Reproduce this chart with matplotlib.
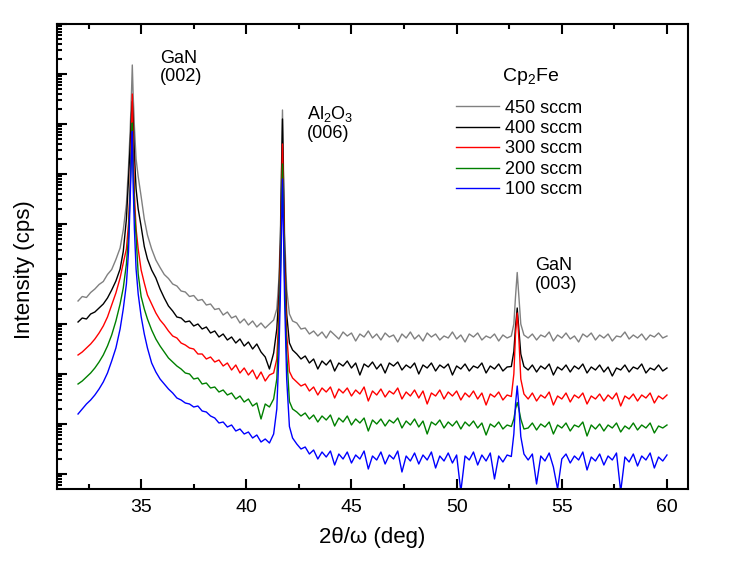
import numpy as np
import matplotlib
matplotlib.use('Agg')
import matplotlib.pyplot as plt
from matplotlib.ticker import LogLocator, NullFormatter, MultipleLocator

plt.rcParams['font.family'] = ['Liberation Sans', 'DejaVu Sans']
plt.rcParams['mathtext.default'] = 'regular'

# 2theta/omega scan positions (deg)
two_theta = [
    32.0, 32.2, 32.4, 32.6, 32.8, 33.0, 33.2, 33.4, 33.6, 33.8, 34.0, 34.15, 34.3,
    34.4, 34.48, 34.54, 34.58, 34.62, 34.68, 34.76, 34.86,
    35.0, 35.15, 35.3, 35.5, 35.7, 35.9, 36.1, 36.3, 36.5, 36.7, 36.9, 37.1, 37.3,
    37.5, 37.7, 37.9, 38.1, 38.3, 38.5, 38.7, 38.9, 39.1, 39.3, 39.5, 39.7, 39.9,
    40.1, 40.3, 40.5, 40.7, 40.9, 41.1, 41.3,
    41.45, 41.55, 41.62, 41.68, 41.72, 41.76, 41.82, 41.92,
    42.05, 42.2, 42.4, 42.6, 42.8, 43.0, 43.2, 43.4, 43.6, 43.8, 44.0, 44.2, 44.4,
    44.6, 44.8, 45.0, 45.2, 45.4, 45.6, 45.8, 46.0, 46.2, 46.4, 46.6, 46.8, 47.0,
    47.2, 47.4, 47.6, 47.8, 48.0, 48.2, 48.4, 48.6, 48.8, 49.0, 49.2, 49.4, 49.6,
    49.8, 50.0, 50.2, 50.4, 50.6, 50.8, 51.0, 51.2, 51.4, 51.6, 51.8, 52.0, 52.2, 52.4,
    52.6, 52.72, 52.8, 52.88, 52.96, 53.05, 53.2,
    53.4, 53.6, 53.8, 54.0, 54.2, 54.4, 54.6, 54.8, 55.0, 55.2, 55.4, 55.6, 55.8,
    56.0, 56.2, 56.4, 56.6, 56.8, 57.0, 57.2, 57.4, 57.6, 57.8, 58.0, 58.2, 58.4,
    58.6, 58.8, 59.0, 59.2, 59.4, 59.6, 59.8, 60.0,
]

# log10 of intensity (cps)
log_450 = [
    3.46, 3.55, 3.53, 3.63, 3.70, 3.79, 3.85, 3.99, 4.09, 4.29, 4.52, 4.88, 5.40,
    6.14, 6.90, 7.60, 8.18, 7.60, 6.95, 6.30, 5.95,
    5.55, 5.10, 4.78, 4.50, 4.28, 4.13, 3.99, 3.91, 3.80, 3.76, 3.66, 3.64, 3.55,
    3.57, 3.47, 3.49, 3.38, 3.40, 3.29, 3.31, 3.18, 3.24, 3.12, 3.16, 3.02, 3.10,
    2.98, 3.06, 2.94, 3.02, 2.92, 3.00, 3.08,
    3.30, 3.90, 4.80, 6.30, 7.28, 6.30, 4.80, 3.70,
    3.20, 3.06, 3.02, 2.90, 2.92, 2.80, 2.86, 2.76, 2.84, 2.72, 2.86, 2.78, 2.70,
    2.84, 2.76, 2.82, 2.66, 2.80, 2.74, 2.86, 2.72, 2.80, 2.68, 2.82, 2.74, 2.78,
    2.64, 2.80, 2.72, 2.84, 2.70, 2.78, 2.66, 2.82, 2.74, 2.80, 2.68, 2.76, 2.72,
    2.84, 2.70, 2.78, 2.64, 2.80, 2.74, 2.82, 2.68, 2.76, 2.72, 2.80, 2.66, 2.78, 2.72,
    2.76, 3.00, 3.55, 4.03, 3.55, 3.00, 2.78,
    2.72, 2.80, 2.68, 2.78, 2.74, 2.84, 2.66, 2.78, 2.72, 2.82, 2.70, 2.76, 2.64,
    2.80, 2.74, 2.82, 2.68, 2.78, 2.72, 2.80, 2.66, 2.76, 2.74, 2.84, 2.70, 2.78,
    2.72, 2.80, 2.68, 2.78, 2.74, 2.82, 2.72, 2.76,
]
log_400 = [
    3.04, 3.12, 3.10, 3.20, 3.24, 3.32, 3.40, 3.52, 3.68, 3.86, 4.10, 4.45, 5.10,
    5.90, 6.60, 7.20, 7.45, 7.10, 6.40, 5.70, 5.30,
    4.95, 4.55, 4.30, 4.08, 3.92, 3.70, 3.52, 3.36, 3.26, 3.14, 3.12, 3.04, 3.06,
    2.96, 3.00, 2.90, 2.94, 2.82, 2.86, 2.74, 2.80, 2.68, 2.74, 2.62, 2.70, 2.56,
    2.64, 2.50, 2.60, 2.44, 2.34, 2.10, 2.42,
    2.90, 3.60, 4.60, 6.10, 7.10, 6.10, 4.50, 3.20,
    2.62, 2.48, 2.40, 2.30, 2.36, 2.22, 2.30, 2.10, 2.26, 2.18, 2.28, 2.06, 2.22,
    2.16, 2.26, 2.12, 2.22, 1.98, 2.20, 2.14, 2.24, 2.10, 2.20, 2.02, 2.22, 2.16,
    2.24, 2.08, 2.18, 2.12, 2.22, 2.00, 2.18, 2.12, 2.22, 2.06, 2.18, 2.12, 2.20,
    1.98, 2.16, 2.10, 2.20, 2.06, 2.16, 2.12, 2.22, 2.02, 2.16, 2.10, 2.20, 2.06, 2.14,
    2.15, 2.45, 2.95, 3.32, 2.90, 2.40, 2.15,
    2.08, 2.18, 2.04, 2.16, 2.10, 2.20, 1.98, 2.14, 2.08, 2.18, 2.04, 2.16, 2.10,
    2.20, 2.02, 2.14, 2.08, 2.18, 2.04, 2.14, 1.96, 2.12, 2.08, 2.18, 2.04, 2.14,
    2.10, 2.20, 2.02, 2.12, 2.08, 2.18, 2.06, 2.12,
]
log_300 = [
    2.38, 2.44, 2.52, 2.60, 2.70, 2.82, 2.96, 3.14, 3.38, 3.62, 3.92, 4.22, 4.50,
    5.00, 5.80, 6.90, 7.60, 6.70, 5.60, 4.90, 4.50,
    4.08, 3.82, 3.58, 3.40, 3.22, 3.08, 2.98, 2.86, 2.76, 2.72, 2.62, 2.58, 2.52,
    2.50, 2.40, 2.40, 2.30, 2.34, 2.24, 2.28, 2.16, 2.22, 2.08, 2.18, 2.02, 2.12,
    1.98, 2.08, 1.90, 2.04, 1.86, 1.98, 2.02,
    2.30, 3.20, 4.30, 5.70, 6.60, 5.70, 4.20, 2.80,
    2.05, 1.92, 1.84, 1.76, 1.80, 1.66, 1.74, 1.58, 1.72, 1.64, 1.74, 1.52, 1.70,
    1.62, 1.72, 1.56, 1.68, 1.60, 1.74, 1.46, 1.66, 1.58, 1.70, 1.54, 1.66, 1.60,
    1.72, 1.50, 1.64, 1.56, 1.68, 1.52, 1.66, 1.40, 1.62, 1.56, 1.68, 1.50, 1.64,
    1.56, 1.66, 1.48, 1.62, 1.54, 1.66, 1.50, 1.62, 1.38, 1.60, 1.54, 1.64, 1.48, 1.58,
    1.55, 2.00, 2.80, 3.22, 2.70, 1.90, 1.60,
    1.50, 1.62, 1.46, 1.58, 1.52, 1.64, 1.38, 1.56, 1.50, 1.62, 1.44, 1.58, 1.52,
    1.62, 1.40, 1.56, 1.50, 1.60, 1.46, 1.58, 1.50, 1.62, 1.36, 1.56, 1.50, 1.60,
    1.46, 1.58, 1.52, 1.62, 1.42, 1.56, 1.50, 1.58,
]
log_200 = [
    1.80, 1.86, 1.94, 2.02, 2.12, 2.24, 2.38, 2.56, 2.78, 3.06, 3.40, 3.72, 4.20,
    4.75, 5.70, 6.60, 7.02, 6.20, 5.30, 4.75, 4.00,
    3.55, 3.30, 3.10, 2.88, 2.70, 2.56, 2.44, 2.32, 2.24, 2.16, 2.10, 2.02, 2.00,
    1.90, 1.92, 1.80, 1.82, 1.72, 1.74, 1.64, 1.68, 1.58, 1.62, 1.50, 1.56, 1.44,
    1.50, 1.36, 1.42, 1.10, 1.40, 1.34, 1.50,
    1.90, 2.90, 4.00, 5.40, 6.20, 5.40, 3.90, 2.40,
    1.45, 1.30, 1.24, 1.16, 1.22, 1.10, 1.18, 1.04, 1.16, 1.08, 1.18, 0.96, 1.12,
    1.04, 1.16, 0.98, 1.10, 1.02, 1.12, 0.86, 1.08, 1.00, 1.10, 0.96, 1.08, 1.02,
    1.12, 0.92, 1.06, 0.98, 1.10, 0.94, 1.06, 0.80, 1.04, 0.98, 1.08, 0.92, 1.04,
    0.96, 1.06, 0.90, 1.04, 0.96, 1.06, 0.92, 1.02, 0.78, 1.00, 0.94, 1.04, 0.90, 0.98,
    0.95, 1.10, 1.30, 1.43, 1.30, 1.10, 0.90,
    0.92, 1.02, 0.88, 1.00, 0.94, 1.04, 0.80, 0.98, 0.92, 1.02, 0.86, 0.98, 0.94,
    1.04, 0.76, 0.98, 0.90, 1.00, 0.86, 0.98, 0.92, 1.02, 0.84, 0.96, 0.90, 1.02,
    0.88, 0.98, 0.92, 1.02, 0.82, 0.96, 0.92, 0.98,
]
log_100 = [
    1.20, 1.30, 1.40, 1.48, 1.58, 1.70, 1.84, 2.02, 2.26, 2.52, 2.90, 3.30, 3.80,
    4.45, 5.50, 6.40, 6.85, 5.80, 4.90, 4.10, 3.60,
    3.15, 2.80, 2.52, 2.22, 2.04, 1.90, 1.80, 1.70, 1.62, 1.52, 1.48, 1.42, 1.40,
    1.34, 1.36, 1.26, 1.24, 1.16, 1.12, 1.02, 1.04, 0.94, 0.98, 0.86, 0.90, 0.80,
    0.84, 0.72, 0.78, 0.64, 0.70, 0.62, 0.80,
    1.30, 2.40, 3.60, 5.00, 5.90, 5.00, 3.50, 1.90,
    0.95, 0.72, 0.60, 0.50, 0.54, 0.40, 0.48, 0.30, 0.44, 0.34, 0.46, 0.18, 0.40,
    0.30, 0.44, 0.22, 0.38, 0.30, 0.46, 0.10, 0.36, 0.28, 0.44, 0.20, 0.38, 0.30,
    0.46, 0.04, 0.36, 0.26, 0.42, 0.20, 0.38, 0.28, 0.44, 0.12, 0.36, 0.26, 0.42,
    0.22, 0.38, -0.35, 0.36, 0.28, 0.44, 0.18, 0.38, 0.26, 0.42, -0.10, 0.36, 0.24, 0.38,
    0.35, 0.80, 1.40, 1.76, 1.35, 0.75, 0.40,
    0.28, 0.40, -0.20, 0.36, 0.26, 0.42, 0.14, -0.30, 0.30, 0.40, 0.22, 0.36, 0.28,
    0.44, 0.08, 0.34, 0.26, 0.40, 0.18, 0.36, 0.28, 0.42, -0.35, 0.34, 0.24, 0.40,
    0.16, 0.36, 0.28, 0.42, 0.12, 0.34, 0.26, 0.38,
]

flow_labels = ['450 sccm', '400 sccm', '300 sccm', '200 sccm', '100 sccm']
series = [log_450, log_400, log_300, log_200, log_100]
colors = ['#808080', '#000000', '#ff0000', '#008000', '#0000ff']

fig = plt.figure(figsize=(7.42, 5.68), dpi=100)
ax = fig.add_axes([57 / 742, 1 - 489 / 568, 631 / 742, 465 / 568])

for vals, lab, col in zip(series, flow_labels, colors):
    ax.plot(two_theta, np.power(10.0, vals), color=col, lw=1.0, label=lab)

ax.set_yscale('log')
ax.set_xlim(31, 61)
ax.set_ylim(10 ** -0.3, 1e9)

ax.xaxis.set_major_locator(MultipleLocator(5))
ax.xaxis.set_minor_locator(MultipleLocator(2.5))
ax.yaxis.set_major_locator(LogLocator(base=10, numticks=20))
ax.yaxis.set_minor_locator(LogLocator(base=10, subs=np.arange(2, 10), numticks=20))
ax.yaxis.set_major_formatter(NullFormatter())
ax.yaxis.set_minor_formatter(NullFormatter())

ax.tick_params(which='both', direction='in', top=True, right=False, width=1.5)
ax.tick_params(which='major', length=7, labelsize=14, pad=7)
ax.tick_params(which='minor', length=3.5)
for sp in ax.spines.values():
    sp.set_linewidth(1.5)

ax.set_xlabel('2θ/ω (deg)', fontsize=16, labelpad=8)
ax.set_ylabel('Intensity (cps)', fontsize=16)
ax.yaxis.set_label_coords(-0.035, 0.471)

ax.text(35.9, 10 ** 8.49, 'GaN\n(002)', fontsize=13, va='top', ha='left', linespacing=1.15)
ax.text(42.89, 10 ** 7.41, 'Al$_2$O$_3$\n(006)', fontsize=13, va='top', ha='left', linespacing=1.15)
ax.text(53.73, 10 ** 4.34, 'GaN\n(003)', fontsize=13, va='top', ha='left', linespacing=1.15)

# legend title drawn separately (larger gap than legend title packing gives)
ax.text(0.705, 0.888, 'Cp$_2$Fe', transform=ax.transAxes, fontsize=14,
        ha='left', va='center')
ax.legend(loc='upper left', bbox_to_anchor=(0.632, 0.8375), frameon=False,
          fontsize=13, handlelength=2.4, handletextpad=0.3, labelspacing=0.19,
          borderpad=0, borderaxespad=0)

fig.savefig('out.png', dpi=100)
